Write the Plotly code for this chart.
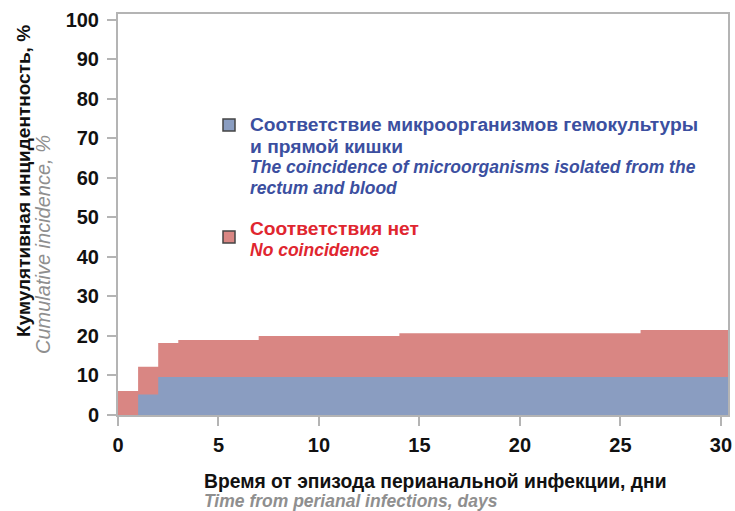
import numpy as np
import plotly.graph_objects as go

# Step breakpoints (days) and values (%)
days = [0, 1, 2, 3, 7, 14, 26, 30.35]
coincidence = [0, 5.2, 9.6, 9.6, 9.6, 9.6, 9.6, 9.6]          # blue layer
no_coincidence = [6.1, 7.0, 8.6, 9.4, 10.4, 11.1, 11.9, 11.9]   # red layer (stacked on blue)
x_ticks = [0, 5, 10, 15, 20, 25, 30]
y_ticks = [0, 10, 20, 30, 40, 50, 60, 70, 80, 90, 100]

total = (np.array(coincidence) + np.array(no_coincidence)).tolist()

BLUE_FILL = "#8A9DC1"
RED_FILL = "#D98683"
BLUE_TXT = "#3B4FA0"
RED_TXT = "#E0262F"
GRAY_TXT = "#8F8F8F"
AX = "#B4B4B4"
FONT = "Liberation Sans, Arial, sans-serif"

fig = go.Figure()
fig.add_trace(go.Scatter(x=days, y=total, mode="lines", fill="tozeroy",
                         fillcolor=RED_FILL, line=dict(width=0, shape="hv", color=RED_FILL),
                         showlegend=False, hoverinfo="skip"))
fig.add_trace(go.Scatter(x=days, y=coincidence, mode="lines", fill="tozeroy",
                         fillcolor=BLUE_FILL, line=dict(width=0, shape="hv", color=BLUE_FILL),
                         showlegend=False, hoverinfo="skip"))

axis_common = dict(showgrid=False, zeroline=False, showline=True, linecolor=AX, linewidth=2,
                   mirror=True, ticks="outside", ticklen=9, tickwidth=1.5, tickcolor=AX,
                   tickfont=dict(family=FONT, size=20, color="#111111", weight="bold"))

fig.update_xaxes(range=[0, 30.35], tickvals=x_ticks, ticklabelstandoff=2, **axis_common)
fig.update_yaxes(range=[0, 101.5], tickvals=y_ticks, ticklabelstandoff=4, **axis_common)

L, R, T, B = 118, 7, 14, 96
W, H = 735, 511
pw, ph = W - L - R, H - T - B

def px(x):
    return (x - L) / pw

def py(y):
    return (H - B - y) / ph

def ann(x, y, text, size, color, xanchor="left", angle=0):
    return dict(x=px(x), y=py(y), text=text, textangle=angle, xanchor=xanchor, yanchor="middle",
                xref="paper", yref="paper", showarrow=False, align="left",
                font=dict(family=FONT, size=size, color=color))

annotations = [
    ann(23, 181, "<b>Кумулятивная инцидентность, %</b>", 19, "#111111", "center", -90),
    ann(43, 245, "<i>Cumulative incidence, %</i>", 20, GRAY_TXT, "center", -90),
    ann(202, 481, "<b>Время от эпизода перианальной инфекции, дни</b>", 19.3, "#111111"),
    ann(202, 501, "<b><i>Time from perianal infections, days</i></b>", 17.5, GRAY_TXT),
    ann(248, 125, "<b>Соответствие микроорганизмов гемокультуры</b>", 19.2, BLUE_TXT),
    ann(248, 146.5, "<b>и прямой кишки</b>", 19.2, BLUE_TXT),
    ann(248, 167, "<b><i>The coincidence of microorganisms isolated from the</i></b>", 17.5, BLUE_TXT),
    ann(248, 187.5, "<b><i>rectum and blood</i></b>", 17.5, BLUE_TXT),
    ann(248, 228.5, "<b>Соответствия нет</b>", 19.2, RED_TXT),
    ann(248, 250, "<b><i>No coincidence</i></b>", 17.5, RED_TXT),
]

shapes = [
    dict(type="rect", xref="paper", yref="paper", x0=px(223), x1=px(235), y0=py(131), y1=py(119),
         fillcolor=BLUE_FILL, line=dict(color="#444444", width=1.5)),
    dict(type="rect", xref="paper", yref="paper", x0=px(223), x1=px(235), y0=py(243), y1=py(231),
         fillcolor=RED_FILL, line=dict(color="#444444", width=1.5)),
]

fig.update_layout(width=W, height=H, margin=dict(l=L, r=R, t=T, b=B, autoexpand=False),
                  plot_bgcolor="white", paper_bgcolor="white",
                  annotations=annotations, shapes=shapes, showlegend=False)

fig.write_html("out.html", config={"displayModeBar": False})

# remove the default page margin so the figure sits at the window's top-left corner
with open("out.html", "r", encoding="utf-8") as f:
    html = f.read()
html = html.replace("<head>", "<head><style>html,body{margin:0;padding:0;overflow:hidden;}</style>", 1)
with open("out.html", "w", encoding="utf-8") as f:
    f.write(html)
